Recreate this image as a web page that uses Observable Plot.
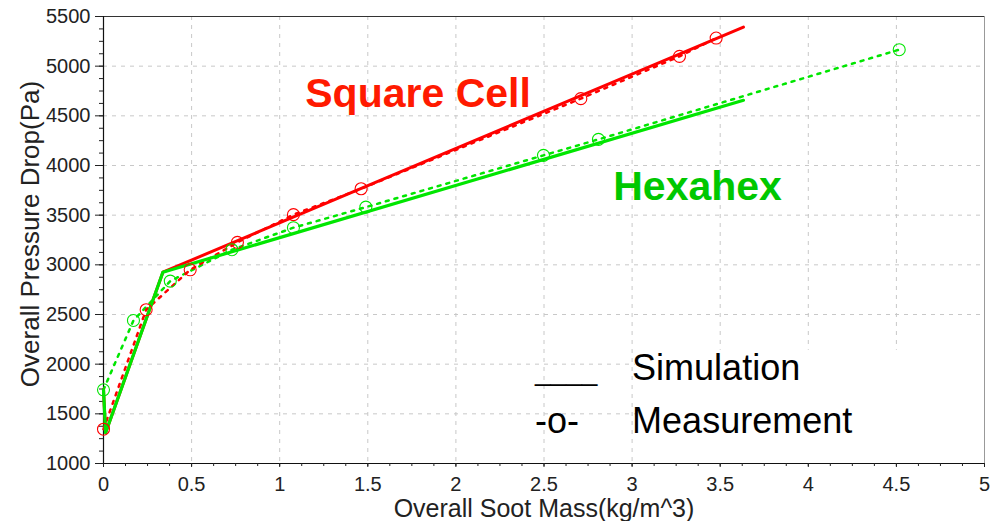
<!DOCTYPE html>
<html>
<head>
<meta charset="utf-8">
<script src="https://cdn.jsdelivr.net/npm/d3@7"></script>
<script src="https://cdn.jsdelivr.net/npm/@observablehq/plot@0.6"></script>
<style>
  html, body { margin: 0; padding: 0; background: #ffffff; }
  #chart svg { display: block; }
</style>
</head>
<body>
<div id="chart"></div>
<script>
// ---- data ----
const sootRedMeas   = [0, 0.242, 0.492, 0.76, 1.078, 1.462, 2.709, 3.269, 3.477];
const dpRedMeas     = [1345, 2548, 2950, 3226, 3505, 3766, 4673, 5099, 5283];
const sootGreenMeas = [0, 0.170, 0.379, 0.729, 1.078, 1.489, 2.497, 2.809, 4.516];
const dpGreenMeas   = [1742, 2440, 2836, 3152, 3374, 3581, 4102, 4263, 5166];
const sootSim       = [0, 0.012, 0.337, 3.632];
const dpRedSim      = [1745, 1310, 2926, 5394];
const dpGreenSim    = [1745, 1310, 2926, 4656];

const xTicks = [0, 0.5, 1, 1.5, 2, 2.5, 3, 3.5, 4, 4.5, 5];
const yTicks = [1000, 1500, 2000, 2500, 3000, 3500, 4000, 4500, 5000, 5500];
const xMinor = d3.range(0, 41).map(i => i * 0.125);
const yMinor = d3.range(0, 37).map(i => 1000 + i * 125);

const seriesLabels = [
  {text: "Square Cell", x: 1.145, y: 4585, series: "red"},
  {text: "Hexahex",     x: 2.893, y: 3648, series: "green"}
];
const legendRows = [
  {symbol: "____", label: "Simulation",  x: 2.449, xl: 3.0, y: 1836},
  {symbol: "-o-",  label: "Measurement", x: 2.449, xl: 3.0, y: 1312}
];
const legendBox = [{x1: 3.02, x2: 5, y1: 1000, y2: 2140}];
const xTitle = "Overall Soot Mass(kg/m^3)";
const yTitle = "Overall Pressure Drop(Pa)";

// ---- tables ----
const toRows = (xs, ys) => xs.map((x, i) => ({x, y: ys[i]}));
const redMeas = toRows(sootRedMeas, dpRedMeas);
const greenMeas = toRows(sootGreenMeas, dpGreenMeas);
const redSim = toRows(sootSim, dpRedSim);
const greenSim = toRows(sootSim, dpGreenSim);

const RED = "#ff0000", GREEN = "#00e600";
const FONT = "'Liberation Sans', Arial, Helvetica, sans-serif";

const chart = Plot.plot({
  width: 1001,
  height: 521,
  marginLeft: 103,
  marginRight: 17,
  marginTop: 16,
  marginBottom: 58,
  style: {background: "#ffffff", fontFamily: FONT},
  x: {domain: [0, 5]},
  y: {domain: [1000, 5500]},
  marks: [
    Plot.gridX(xTicks.filter(d => d > 0 && d < 5), {stroke: "#c8c8c8", strokeOpacity: 1, strokeDasharray: "4,5"}),
    Plot.gridY(yTicks.filter(d => d > 1000 && d < 5500), {stroke: "#c8c8c8", strokeOpacity: 1, strokeDasharray: "4,5"}),
    Plot.rect(legendBox, {x1: "x1", x2: "x2", y1: "y1", y2: "y2", fill: "#ffffff"}),
    Plot.ruleY([5500], {stroke: "#333"}),
    Plot.ruleX([5], {stroke: "#999"}),
    Plot.ruleX([0], {stroke: "#111", strokeWidth: 1.2}),
    Plot.ruleY([1000], {stroke: "#111", strokeWidth: 1.2}),
    // minor ticks
    Plot.axisX(xMinor, {tickSize: 3, tickFormat: () => "", color: "#222"}),
    Plot.axisY(yMinor, {tickSize: 4, tickFormat: () => "", color: "#222"}),
    // major ticks with labels
    Plot.axisX(xTicks, {tickSize: 4, tickPadding: 9, fontSize: 20, color: "#222", label: null, tickFormat: d => String(d)}),
    Plot.axisY(yTicks, {tickSize: 8, tickPadding: 5, fontSize: 20, color: "#222", label: null, tickFormat: d => String(d)}),
    // measurements (dotted)
    Plot.line(greenMeas, {x: "x", y: "y", stroke: GREEN, strokeWidth: 2.5, strokeDasharray: "3,6"}),
    Plot.line(redMeas, {x: "x", y: "y", stroke: RED, strokeWidth: 2.5, strokeDasharray: "3,6"}),
    // simulations (solid)
    Plot.line(redSim, {x: "x", y: "y", stroke: RED, strokeWidth: 3}),
    Plot.line(greenSim, {x: "x", y: "y", stroke: GREEN, strokeWidth: 3.2}),
    // measurement markers
    Plot.dot(redMeas, {x: "x", y: "y", r: 6, stroke: RED, strokeWidth: 1.1, fill: "none"}),
    Plot.dot(greenMeas, {x: "x", y: "y", r: 6, stroke: GREEN, strokeWidth: 1.1, fill: "none"}),
    // series labels
    Plot.text(seriesLabels, {x: "x", y: "y", text: "text", textAnchor: "start", lineAnchor: "bottom",
      fontSize: 41, fontWeight: "bold", fill: d => d.series === "red" ? "#ff1a00" : "#00c800"}),
    // legend
    Plot.text(legendRows.slice(0, 1), {x: "x", y: "y", text: "symbol", textAnchor: "start", lineAnchor: "bottom", fontSize: 28, fill: "#000"}),
    Plot.text(legendRows.slice(1), {x: "x", y: "y", text: "symbol", textAnchor: "start", lineAnchor: "bottom", fontSize: 36, fill: "#000"}),
    Plot.text(legendRows, {x: "xl", y: "y", text: "label", textAnchor: "start", lineAnchor: "bottom", fontSize: 36, fill: "#000"}),
    // axis titles
    Plot.text([xTitle], {frameAnchor: "bottom", textAnchor: "middle", dy: 53, lineAnchor: "bottom", fontSize: 25, fill: "#222", style: {letterSpacing: "0.6px"}}),
    Plot.text([yTitle], {frameAnchor: "left", textAnchor: "middle", dx: -65, dy: -6, rotate: -90, lineAnchor: "bottom", fontSize: 26, fill: "#222"})
  ]
});

document.getElementById("chart").appendChild(chart);
</script>
</body>
</html>
